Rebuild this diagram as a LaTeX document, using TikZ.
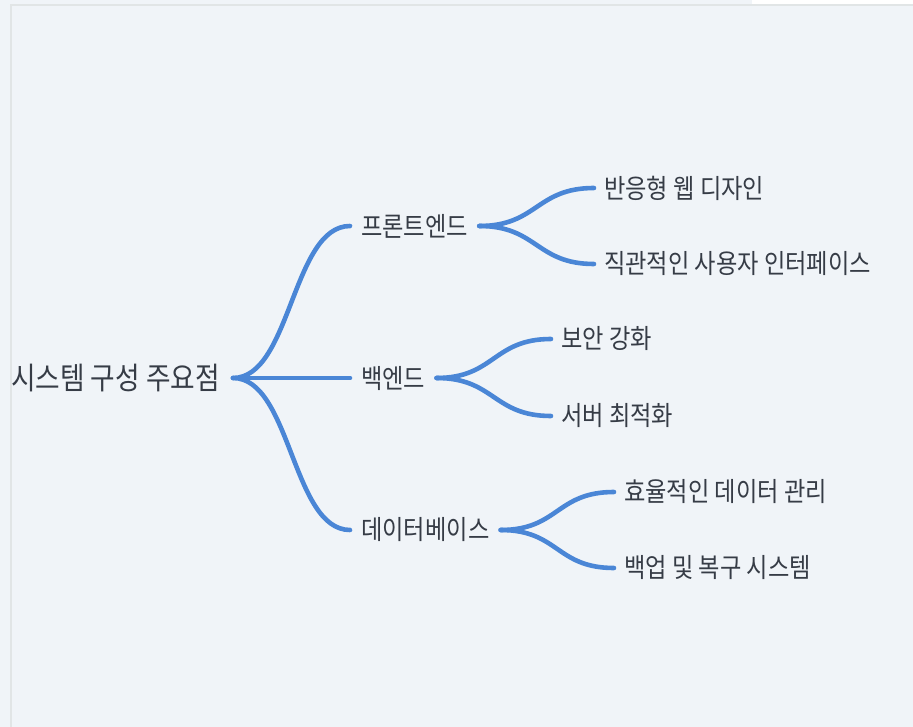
\documentclass[tikz,border=0pt]{standalone}
\usepackage{graphicx}
\usepackage{fontspec}
\setmainfont{Noto Sans CJK KR}
\definecolor{bgc}{HTML}{F0F4F8}
\definecolor{framec}{HTML}{E1E5E6}
\definecolor{linkc}{HTML}{4A86D6}
\definecolor{txtc}{HTML}{363C46}
\newcommand{\narrowtxt}[1]{\scalebox{0.87}[1]{#1}}
\begin{document}
\begin{tikzpicture}[x=1pt,y=-1pt,
  rootlbl/.style={anchor=east, text=txtc, inner xsep=13pt, inner ysep=0pt, font=\fontsize{30.7}{34}\selectfont},
  midlbl/.style={anchor=west, text=txtc, inner xsep=11pt, inner ysep=0pt, font=\fontsize{26.7}{30}\selectfont},
  leaflbl/.style={anchor=west, text=txtc, inner xsep=10pt, inner ysep=0pt, font=\fontsize{26.7}{30}\selectfont},
  linkline/.style={draw=linkc, line width=4.6pt, line cap=round},
]
\useasboundingbox (0,0) rectangle (913,727);
\fill[bgc] (0,0) rectangle (913,727);
\fill[white] (752,0) rectangle (913,4.5);
\draw[framec, line width=2pt] (11,727) -- (11,5.5) -- (913,5.5);

\node[rootlbl] (r) at (233,378) {\narrowtxt{시스템 구성 주요점}};

\node[midlbl] (fe) at (350,226) {\narrowtxt{프론트엔드}};
\node[midlbl] (be) at (350,378) {\narrowtxt{백엔드}};
\node[midlbl] (db) at (350,530) {\narrowtxt{데이터베이스}};

\node[leaflbl] (fe1) at (594,188) {\narrowtxt{반응형 웹 디자인}};
\node[leaflbl] (fe2) at (594,264) {\narrowtxt{직관적인 사용자 인터페이스}};
\node[leaflbl] (be1) at (551,339) {\narrowtxt{보안 강화}};
\node[leaflbl] (be2) at (551,416) {\narrowtxt{서버 최적화}};
\node[leaflbl] (db1) at (614,492) {\narrowtxt{효율적인 데이터 관리}};
\node[leaflbl] (db2) at (614,568) {\narrowtxt{백업 및 복구 시스템}};

\draw[linkline] (r.east) .. controls +(58,0) and +(-58,0) .. (fe.west);
\draw[linkline] (r.east) -- (be.west);
\draw[linkline] (r.east) .. controls +(58,0) and +(-58,0) .. (db.west);

\draw[linkline] (fe.east) .. controls +(58,0) and +(-58,0) .. (fe1.west);
\draw[linkline] (fe.east) .. controls +(58,0) and +(-58,0) .. (fe2.west);
\draw[linkline] (be.east) .. controls +(58,0) and +(-58,0) .. (be1.west);
\draw[linkline] (be.east) .. controls +(58,0) and +(-58,0) .. (be2.west);
\draw[linkline] (db.east) .. controls +(58,0) and +(-58,0) .. (db1.west);
\draw[linkline] (db.east) .. controls +(58,0) and +(-58,0) .. (db2.west);
\end{tikzpicture}
\end{document}
